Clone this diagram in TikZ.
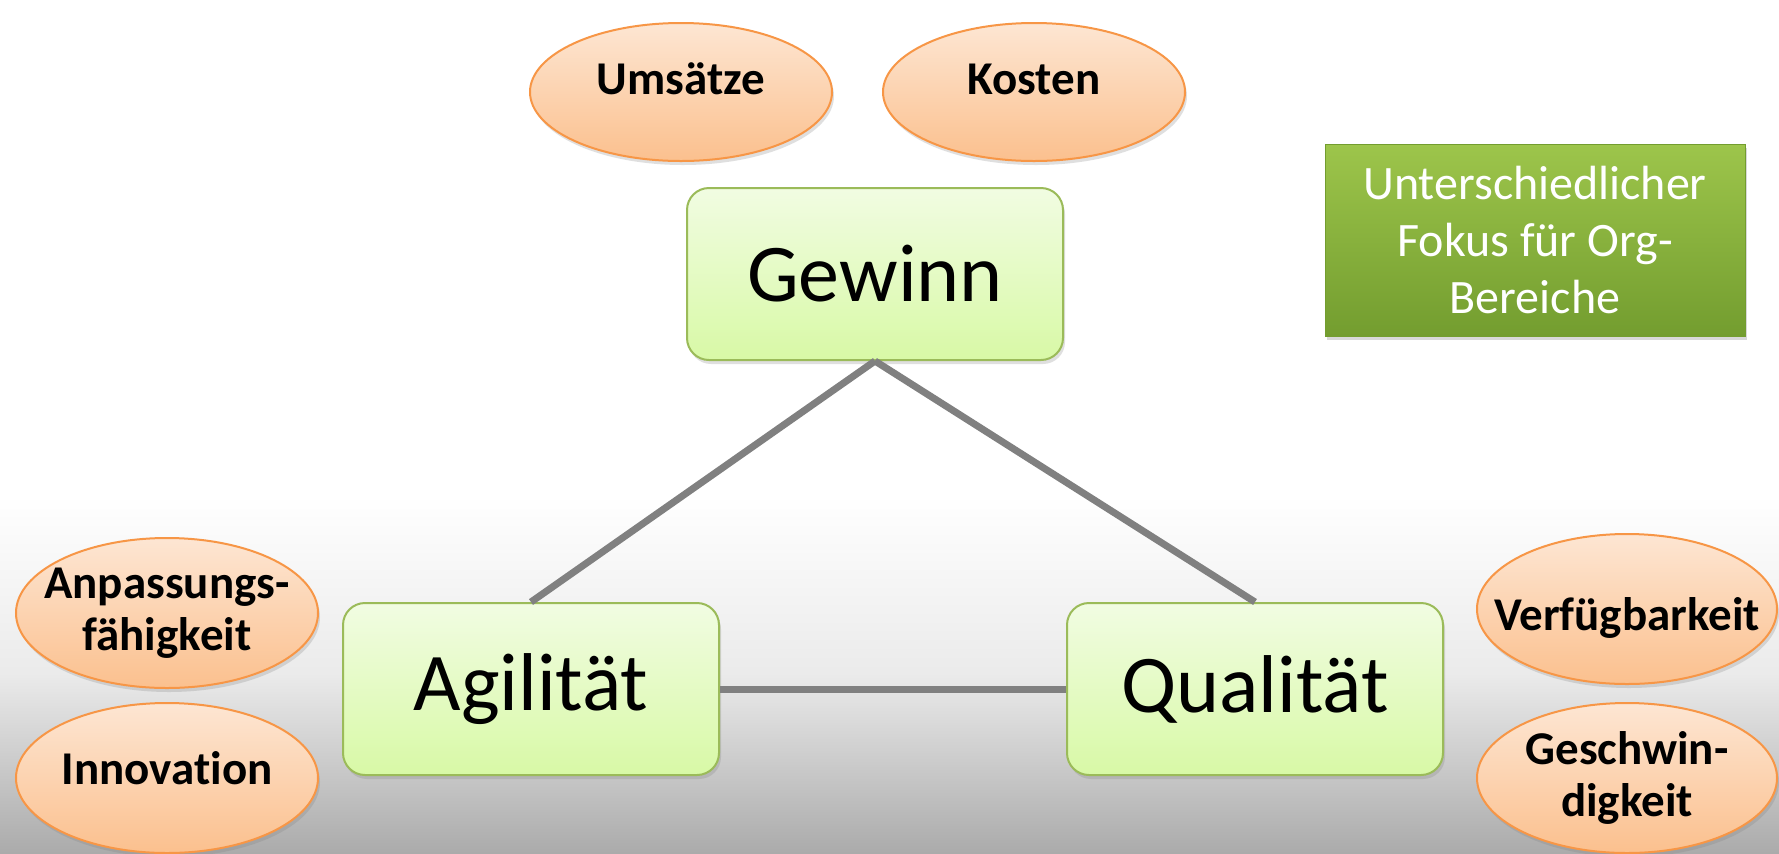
\documentclass[tikz,border=0pt]{standalone}
\usepackage{fontspec}
\setmainfont{Carlito}[Ligatures=NoCommon]
\usepackage{tikz}
\usetikzlibrary{positioning,shapes.geometric,shadows}
\definecolor{PillarTop}{HTML}{F1FCE2}
\definecolor{PillarBottom}{HTML}{D8F9A6}
\definecolor{PillarLine}{HTML}{9BBB59}
\definecolor{FactorTop}{HTML}{FDE6D3}
\definecolor{FactorBottom}{HTML}{FBC08E}
\definecolor{FactorLine}{HTML}{F79646}
\definecolor{NoteTop}{HTML}{9DC54B}
\definecolor{NoteBottom}{HTML}{739D2F}
\definecolor{LinkGray}{HTML}{808080}
\newcommand{\baselineat}[2]{\raisebox{#1}[0pt][0pt]{#2}}
\tikzset{
  pillar/.style={draw=PillarLine, line width=1pt, rounded corners=11pt, top color=PillarTop, bottom color=PillarBottom,
    minimum width=188pt, minimum height=86pt, drop shadow={opacity=0.25, shadow xshift=1pt, shadow yshift=-2pt},
    font=\fontsize{41}{49}\selectfont},
  factor/.style={ellipse, draw=FactorLine, line width=1pt, top color=FactorTop, bottom color=FactorBottom,
    minimum width=151pt, minimum height=69pt, inner xsep=-25pt, inner ysep=-10pt, align=center,
    drop shadow={opacity=0.25, shadow xshift=1pt, shadow yshift=-2pt},
    font=\bfseries\fontsize{23.5}{26}\selectfont},
  link/.style={LinkGray, line width=3.5pt}
}
\begin{document}
\begin{tikzpicture}[x=0.5pt, y=-0.5pt]
      \useasboundingbox (0,0) rectangle (1779,853);
      % Background
      \fill[white] (0,0) rectangle (1779,853);
      \shade[top color=white, bottom color=black!33, middle color=black!8] (0,495) rectangle (1779,853);
      % Nodes
      \node[pillar] (gewinn) at (875,274) {Gewinn};
      \node[pillar] (agil) at (531,689) {Agilität};
      \node[pillar] (quali) at (1255,689) {Qualität};
      \node[factor] (umsatz) at (681,92) {\baselineat{-1.4pt}{Umsätze}};
      \node[factor] (kosten) at (1034,92) {\baselineat{-1.4pt}{Kosten}};
      \node[factor, minimum height=75pt] (anpass) at (167,613) {Anpassungs-\\fähigkeit};
      \node[factor, minimum height=75pt] (innov) at (167,778) {\baselineat{-3.1pt}{Innovation}};
      \node[factor, minimum width=150pt, minimum height=75pt] (verfueg) at (1627,609) {\baselineat{-10.6pt}{Verfügbarkeit}};
      \node[factor, minimum width=150pt, minimum height=75pt] (geschw) at (1627,778) {Geschwin-\\digkeit};
      \node[top color=NoteTop, bottom color=NoteBottom, draw=NoteBottom, minimum width=210pt, minimum height=96pt,
        align=center, text=white, font=\fontsize{24}{28.5}\selectfont,
        drop shadow={opacity=0.3, shadow xshift=1pt, shadow yshift=-2pt}] (fokus) at (1535,240)
        {Unterschiedlicher\\Fokus für Org-\\Bereiche};
      % Lines
      \draw[link] (gewinn.south) -- (agil.north);
      \draw[link] (gewinn.south) -- (quali.north);
      \draw[link] (agil.east) -- (quali.west);
\end{tikzpicture}
\end{document}
